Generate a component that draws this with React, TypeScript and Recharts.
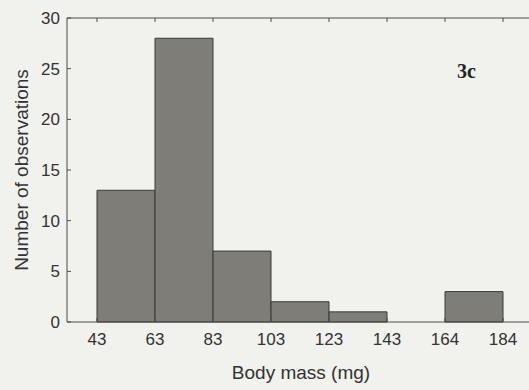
import React from 'react';
import { BarChart, Bar, XAxis, YAxis, Label } from 'recharts';

const binLabels = ['43-63', '63-83', '83-103', '103-123', '123-143', '143-164', '164-184'];
const counts = [13, 28, 7, 2, 1, 0, 3];
const edgeLabels = ['43', '63', '83', '103', '123', '143', '164', '184'];
const edgeTicks = [0, 1, 2, 3, 4, 5, 6, 7];
const yTicks = [0, 5, 10, 15, 20, 25, 30];
const yMax = 30;

const data = binLabels.map((bin, i) => ({ bin, count: counts[i], idx: i + 0.5 }));

const edgeDomain: [number, number] = [-30 / 58, 7 + 26 / 58];
const FONT = '"Liberation Sans", Arial, sans-serif';
const AXIS = '#4a4a46';

export default function App() {
  return (
    <div style={{ position: 'absolute', left: 0, top: 0, width: 529, height: 390, background: '#f1f1ed' }}>
      <BarChart
        width={529}
        height={390}
        data={data}
        margin={{ top: 0, right: 0, bottom: 0, left: 0 }}
        barCategoryGap={0}
        barGap={0}
      >
        <XAxis
          xAxisId="bins"
          dataKey="bin"
          type="category"
          hide
          height={0}
          padding={{ left: 30, right: 26 }}
        />
        <XAxis
          xAxisId="edges"
          dataKey="idx"
          type="number"
          domain={edgeDomain}
          allowDataOverflow
          ticks={edgeTicks}
          interval={0}
          tickFormatter={(v: number) => edgeLabels[v] ?? ''}
          height={68}
          tickSize={-4}
          tickMargin={15}
          stroke={AXIS}
          tick={{ fill: '#333', fontSize: 17, fontFamily: FONT }}
        >
          <Label
            content={() => (
              <text x={301} y={379} textAnchor="middle" fill="#333" fontSize={19} fontFamily={FONT}>
                Body mass (mg)
              </text>
            )}
          />
        </XAxis>
        <XAxis
          xAxisId="upper"
          orientation="top"
          dataKey="idx"
          type="number"
          domain={edgeDomain}
          allowDataOverflow
          ticks={edgeTicks}
          interval={0}
          tick={{ fontSize: 8, fill: 'transparent' }}
          height={18}
          tickSize={-4}
          stroke="#4a4a46"
          axisLine={{ stroke: '#4a4a46' }}
        />
        <YAxis
          domain={[0, yMax]}
          ticks={yTicks}
          interval={0}
          width={67}
          tickSize={-4}
          tickMargin={11}
          stroke={AXIS}
          tick={{ fill: '#333', fontSize: 17, fontFamily: FONT }}
        >
          <Label
            content={() => (
              <text
                x={21}
                y={170}
                transform="rotate(-90, 21, 170)"
                textAnchor="middle"
                dominantBaseline="central"
                fill="#333"
                fontSize={19}
                fontFamily={FONT}
              >
                Number of observations
              </text>
            )}
          />
        </YAxis>
        <Bar
          xAxisId="bins"
          dataKey="count"
          fill="#7e7d77"
          stroke="#3a3a36"
          strokeWidth={1}
          isAnimationActive={false}
        />
      </BarChart>
      <div
        style={{
          position: 'absolute',
          left: 457,
          top: 61,
          fontFamily: '"Liberation Serif", "Times New Roman", serif',
          fontWeight: 'bold',
          fontSize: 20,
          lineHeight: '20px',
          color: '#222',
        }}
      >
        3c
      </div>
    </div>
  );
}
